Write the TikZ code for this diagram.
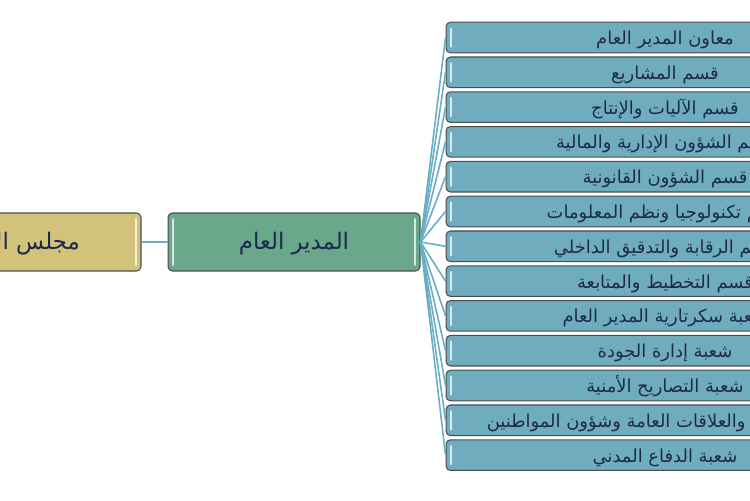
\documentclass[tikz,border=0pt]{standalone}
\usepackage{fontspec}
\newfontfamily\arabicfont[Script=Arabic]{DejaVu Sans}
\TeXXeTstate=1
\usetikzlibrary{positioning}

\definecolor{unitblue}{RGB}{111,172,190}
\definecolor{mgrgreen}{RGB}{106,168,140}
\definecolor{boardgold}{RGB}{210,194,122}
\definecolor{inkblue}{RGB}{28,42,78}
\definecolor{fanline}{RGB}{105,172,198}

\begin{document}
\begin{tikzpicture}[
        x=0.02cm, y=-0.02cm,
        box/.style={rectangle, draw=black!70, line width=0.6pt, rounded corners=2.5pt, inner sep=0pt, text=inkblue,
            path picture={
                \draw[white, opacity=0.75, line width=1.1pt, line cap=round]
                    ([shift={(3pt,-3.5pt)}]path picture bounding box.north west) -- ([shift={(3pt,3.5pt)}]path picture bounding box.south west)
                    ([shift={(-3pt,-3.5pt)}]path picture bounding box.north east) -- ([shift={(-3pt,3.5pt)}]path picture bounding box.south east);
            }},
        unit/.style={box, fill=unitblue, minimum width=8.76cm, minimum height=0.612cm, text height=9pt, text depth=1pt,
            font=\arabicfont\fontsize{10.2}{12}\selectfont},
        head/.style={box, minimum width=5.04cm, minimum height=1.16cm, text height=10pt, text depth=1.8pt,
            font=\arabicfont\fontsize{13}{15}\selectfont},
        fan/.style={fanline, line width=0.9pt}
    ]
        \useasboundingbox (0,0) rectangle (750,500);
        \clip (0,0) rectangle (750,500);

        % Head nodes
        \node[head, fill=mgrgreen] (gm) at (294,242) {\beginR المدير العام\endR};
        \node[head, fill=boardgold, left=0.52cm of gm] (board) {\beginR مجلس الإدارة\endR};

        % Units
        \node[unit] (u1) at (665,37.5) {\beginR معاون المدير العام\endR};
        \node[unit, below=0.063cm of u1] (u2) {\beginR قسم المشاريع\endR};
        \node[unit, below=0.063cm of u2] (u3) {\beginR قسم الآليات والإنتاج\endR};
        \node[unit, below=0.063cm of u3] (u4) {\beginR قسم الشؤون الإدارية والمالية\endR};
        \node[unit, below=0.063cm of u4] (u5) {\beginR قسم الشؤون القانونية\endR};
        \node[unit, below=0.063cm of u5] (u6) {\beginR قسم تكنولوجيا ونظم المعلومات\endR};
        \node[unit, below=0.063cm of u6] (u7) {\beginR قسم الرقابة والتدقيق الداخلي\endR};
        \node[unit, below=0.063cm of u7] (u8) {\beginR قسم التخطيط والمتابعة\endR};
        \node[unit, below=0.063cm of u8] (u9) {\beginR شعبة سكرتارية المدير العام\endR};
        \node[unit, below=0.063cm of u9] (u10) {\beginR شعبة إدارة الجودة\endR};
        \node[unit, below=0.063cm of u10] (u11) {\beginR شعبة التصاريح الأمنية\endR};
        \node[unit, below=0.063cm of u11] (u12) {\beginR شعبة الإعلام والعلاقات العامة وشؤون المواطنين\endR};
        \node[unit, below=0.063cm of u12] (u13) {\beginR شعبة الدفاع المدني\endR};

        % Links
        \draw[fan] (board.east) -- (gm.west);
        \draw[fan] (gm.east) -- (u1.west);
        \draw[fan] (gm.east) -- (u2.west);
        \draw[fan] (gm.east) -- (u3.west);
        \draw[fan] (gm.east) -- (u4.west);
        \draw[fan] (gm.east) -- (u5.west);
        \draw[fan] (gm.east) -- (u6.west);
        \draw[fan] (gm.east) -- (u7.west);
        \draw[fan] (gm.east) -- (u8.west);
        \draw[fan] (gm.east) -- (u9.west);
        \draw[fan] (gm.east) -- (u10.west);
        \draw[fan] (gm.east) -- (u11.west);
        \draw[fan] (gm.east) -- (u12.west);
        \draw[fan] (gm.east) -- (u13.west);
    \end{tikzpicture}
\end{document}
